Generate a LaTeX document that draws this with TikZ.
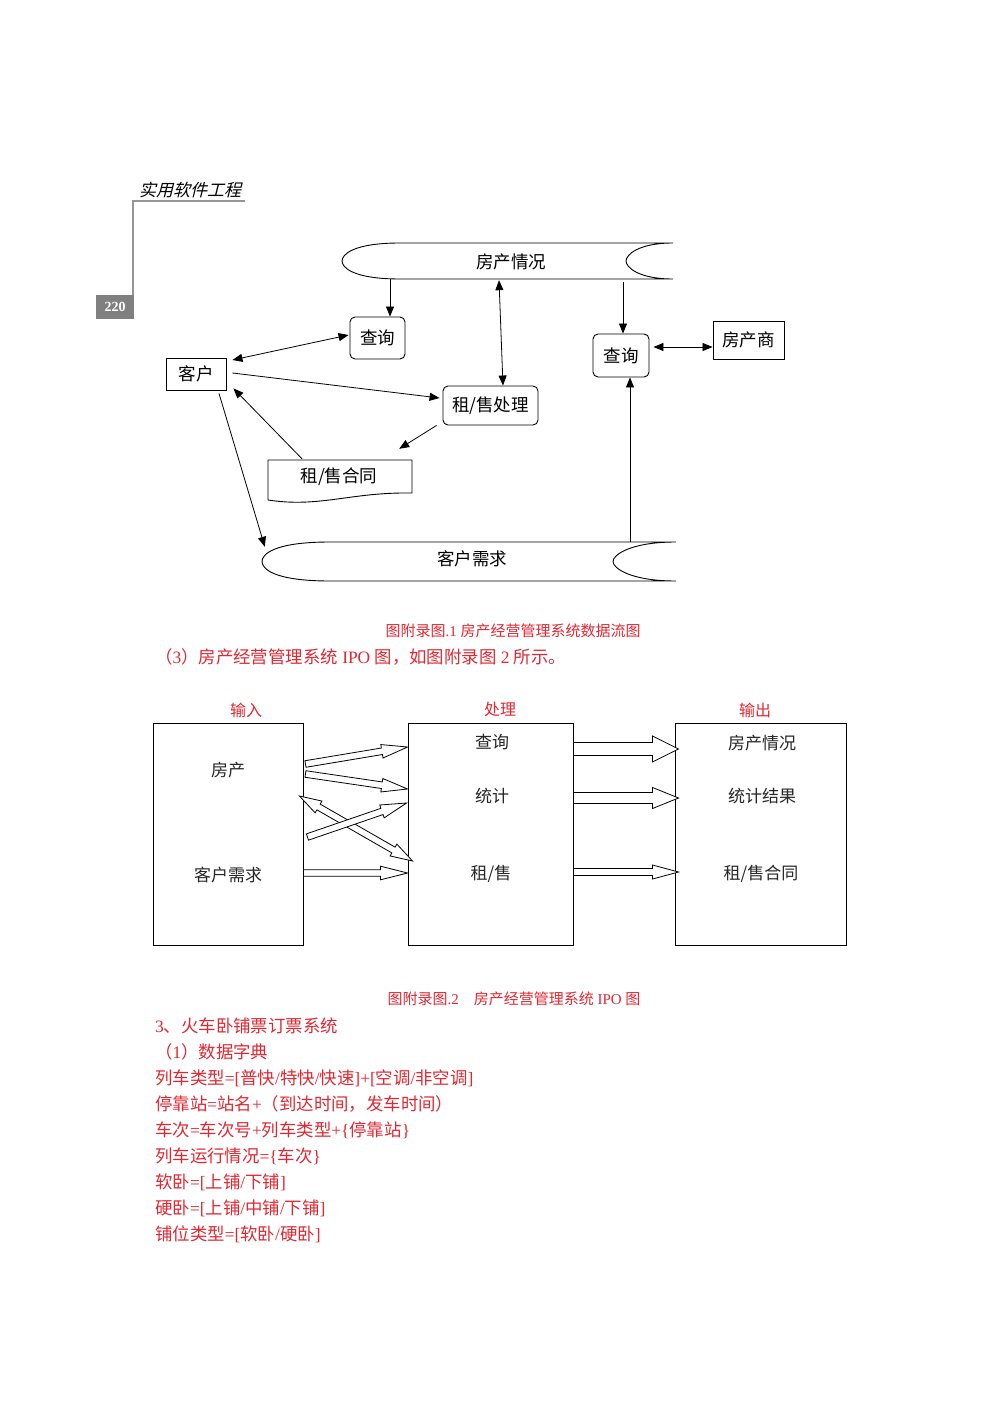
\documentclass[tikz,border=0pt]{standalone}
\usepackage{fontspec}
\setmainfont{Liberation Serif}
\newfontfamily\zhfont{Noto Sans CJK SC}
\newfontfamily\zhslant[FakeSlant=0.25]{Noto Sans CJK SC}
\usetikzlibrary{arrows.meta,calc}
\definecolor{redt}{RGB}{225,40,50}
\definecolor{hdrgray}{RGB}{150,150,150}
\definecolor{pggray}{RGB}{128,128,128}
\newcommand\zh[1]{{\zhfont #1}}
\newcommand\blkarrow[5]{%
  \coordinate (bkH) at ($(#2)!#5!(#1)$);
  \draw[blk] ($(#1)!#3!90:(#2)$) -- ($(bkH)!#3!-90:(#1)$) -- ($(bkH)!#4!-90:(#1)$) -- (#2) -- ($(bkH)!#4!90:(#1)$) -- ($(bkH)!#3!90:(#1)$) -- ($(#1)!#3!-90:(#2)$) -- cycle;}
\newcommand\dblkarrow[5]{%
  \coordinate (bkA) at ($(#1)!#5!(#2)$);
  \coordinate (bkB) at ($(#2)!#5!(#1)$);
  \draw[blk] (#1) -- ($(bkA)!#4!90:(#2)$) -- ($(bkA)!#3!90:(#2)$) -- ($(bkB)!#3!-90:(#1)$) -- ($(bkB)!#4!-90:(#1)$) -- (#2) -- ($(bkB)!#4!90:(#1)$) -- ($(bkB)!#3!90:(#1)$) -- ($(bkA)!#3!-90:(#2)$) -- ($(bkA)!#4!-90:(#2)$) -- cycle;}
\begin{document}
\begin{tikzpicture}[x=1pt,y=-1pt,
  every node/.style={inner sep=0pt},
  box/.style={draw, line width=0.9pt, font=\zhfont\fontsize{17.5}{20}\selectfont},
  rbox/.style={box, rounded corners=5pt},
  ghost/.style={font=\zhfont\fontsize{17.5}{20}\selectfont},
  lbl/.style={font=\zhfont\fontsize{17}{20}\selectfont, text=black!85},
  ipobox/.style={draw, line width=0.9pt, minimum width=#1, minimum height=222},
  arr/.style={-{Triangle[length=10pt,width=8pt]}, line width=0.8pt},
  darr/.style={{Triangle[length=10pt,width=8pt]}-{Triangle[length=10pt,width=8pt]}, line width=0.8pt},
  blk/.style={draw, fill=white, line width=0.8pt, line join=miter},
  store/.style={line width=0.9pt},
  redlbl/.style={text=redt, font=\zhfont\fontsize{16}{19}\selectfont},
  captxt/.style={text=redt, font=\fontsize{15}{18}\selectfont},
  body/.style={text=redt, anchor=west, font=\fontsize{17.4}{20}\selectfont}
]
\useasboundingbox (0,0) rectangle (993,1404);
\fill[white] (0,0) rectangle (993,1404);

% ---------- page header ----------
\draw[hdrgray, line width=1.2pt] (245,201) -- (133,201) -- (133,296);
\node[fill=pggray, minimum width=38, minimum height=24, text=white, font=\bfseries\fontsize{14}{16}\selectfont] (pg) at (115,307) {220};
\node[font=\zhslant\fontsize{17}{20}\selectfont] (hd) at (190,190) {实用软件工程};

% ---------- data flow diagram ----------
\draw[store] (400,243) -- (673,243) .. controls (638,243) and (626,255) .. (626,261) .. controls (626,267) and (638,279) .. (673,279) -- (400,279) .. controls (352,279) and (342,267) .. (342,261) .. controls (342,255) and (352,243) .. (400,243);
\node[ghost, minimum width=331, minimum height=36] (fq) at (507.5,261) {};
\node[ghost] (fqt) at (511,262) {房产情况};

\draw[store] (330,542) -- (676,542) .. controls (630,542) and (613,555) .. (613,561.5) .. controls (613,568) and (630,581) .. (676,581) -- (330,581) .. controls (272,581) and (262,568) .. (262,561.5) .. controls (262,555) and (272,542) .. (330,542);
\node[ghost, minimum width=414, minimum height=39] (kx) at (469,561.5) {};
\node[ghost] (kxt) at (472,559) {客户需求};

\node[box, minimum width=60, minimum height=32] (kh) at (196,374) {客户};
\node[rbox, minimum width=55, minimum height=42] (q1) at (377.5,338) {查询};
\node[rbox, minimum width=95, minimum height=39] (zs) at (490.5,405.5) {租/售处理};
\node[rbox, minimum width=56, minimum height=43] (q2) at (621,355.5) {查询};
\node[box, minimum width=71, minimum height=38] (fcs) at (748.5,340) {房产商};

\draw[store] (268,500) -- (268,460) -- (412,460) -- (412,493) .. controls (350,492) and (320,508) .. (268,500);
\node[ghost, minimum width=144, minimum height=40] (ht) at (340,480) {};
\node[ghost] (htt) at (339,477) {租/售合同};

\draw[arr] ([shift={(-117.5,0)}]fq.south) -- ([shift={(12.5,0)}]q1.north);
\draw[darr] ([shift={(6,-14)}]kh.east) -- ([shift={(-1,-3)}]q1.west);
\draw[arr] ([shift={(6,-1)}]kh.east) -- ([shift={(-3,-7.5)}]zs.west);
\draw[arr] ([shift={(-38,-1)}]ht.north) -- ([shift={(7,-2)}]kh.south east);
\draw[arr] ([shift={(-6,0)}]zs.south west) -- ([shift={(-13,-11)}]ht.north east);
\draw[arr] ([shift={(23,3)}]kh.south) -- ([shift={(3,5)}]kx.north west);
\draw[darr] ([shift={(-8.5,1)}]fq.south) -- ([shift={(12.5,0)}]zs.north);
\draw[arr] ([shift={(115.5,3)}]fq.south) -- ([shift={(2,0)}]q2.north);
\draw[darr] ([shift={(4,-8.5)}]q2.east) -- ([shift={(0,7)}]fcs.west);
\draw[arr] ([shift={(161,0)}]kx.north) -- ([shift={(9,0)}]q2.south);

\node[captxt] (cap1) at (513,631) {\zh{图附录图}.1 \zh{房产经营管理系统数据流图}};
\node[body] (l0) at (155,657) {\zh{（}3\zh{）房产经营管理系统} IPO \zh{图，如图附录图} 2 \zh{所示。}};

% ---------- IPO diagram ----------
\node[ipobox=150] (inb) at (228,834) {};
\node[ipobox=165] (pb) at (490.5,834) {};
\node[ipobox=171] (ob) at (760.5,834) {};
\node[redlbl] (tin) at (246,710) {输入};
\node[redlbl] (tpr) at (500,709) {处理};
\node[redlbl] (tout) at (755,710) {输出};
\node[lbl] (i1) at (228,770) {房产};
\node[lbl] (i2) at (228,875) {客户需求};
\node[lbl] (p1) at (492,742) {查询};
\node[lbl] (p2) at (492,796) {统计};
\node[lbl] (p3) at (491,874) {租/售};
\node[lbl] (o1) at (762,743) {房产情况};
\node[lbl] (o2) at (762,796) {统计结果};
\node[lbl] (o3) at (761,874) {租/售合同};

\coordinate (a1s) at ([shift={(2,-70)}]inb.east);
\coordinate (a1e) at ([shift={(0,-87)}]pb.west);
\coordinate (a2s) at ([shift={(2,-60)}]inb.east);
\coordinate (a2e) at ([shift={(0,-45)}]pb.west);
\coordinate (a3s) at ([shift={(4,3)}]inb.east);
\coordinate (a3e) at ([shift={(-1,-31)}]pb.west);
\coordinate (a4s) at ([shift={(-4,-38)}]inb.east);
\coordinate (a4e) at ([shift={(5,27)}]pb.west);
\coordinate (a5s) at ([shift={(0,39)}]inb.east);
\coordinate (a5e) at ([shift={(0,39)}]pb.west);
\coordinate (b1s) at ([shift={(0,-85)}]pb.east);
\coordinate (b1e) at ([shift={(4,-85)}]ob.west);
\coordinate (b2s) at ([shift={(0,-36)}]pb.east);
\coordinate (b2e) at ([shift={(4,-36)}]ob.west);
\coordinate (b3s) at ([shift={(0,38)}]pb.east);
\coordinate (b3e) at ([shift={(4,38)}]ob.west);

\blkarrow{a1s}{a1e}{3.3pt}{6.8pt}{26pt}
\blkarrow{a2s}{a2e}{3.3pt}{6.8pt}{26pt}
\dblkarrow{a4s}{a4e}{3.3pt}{6.8pt}{22pt}
\blkarrow{a3s}{a3e}{3.3pt}{6.8pt}{26pt}
\blkarrow{a5s}{a5e}{3.3pt}{6.8pt}{27pt}
\blkarrow{b1s}{b1e}{6.5pt}{13pt}{26pt}
\blkarrow{b2s}{b2e}{5.5pt}{10.5pt}{26pt}
\blkarrow{b3s}{b3e}{3.5pt}{7pt}{26pt}

\node[captxt] (cap2) at (514,999) {\zh{图附录图}.2\zh{　房产经营管理系统} IPO \zh{图}};

% ---------- text lines ----------
\node[body] (t1) at (155,1026) {3\zh{、火车卧铺票订票系统}};
\node[body] (t2) at (155,1052) {\zh{（}1\zh{）数据字典}};
\node[body] (t3) at (155,1078) {\zh{列车类型}=[\zh{普快}/\zh{特快}/\zh{快速}]+[\zh{空调}/\zh{非空调}]};
\node[body] (t4) at (155,1104) {\zh{停靠站}=\zh{站名}+\zh{（到达时间，发车时间）}};
\node[body] (t5) at (155,1130) {\zh{车次}=\zh{车次号}+\zh{列车类型}+\{\zh{停靠站}\}};
\node[body] (t6) at (155,1156) {\zh{列车运行情况}=\{\zh{车次}\}};
\node[body] (t7) at (155,1182) {\zh{软卧}=[\zh{上铺}/\zh{下铺}]};
\node[body] (t8) at (155,1208) {\zh{硬卧}=[\zh{上铺}/\zh{中铺}/\zh{下铺}]};
\node[body] (t9) at (155,1234) {\zh{铺位类型}=[\zh{软卧}/\zh{硬卧}]};
\end{tikzpicture}
\end{document}
